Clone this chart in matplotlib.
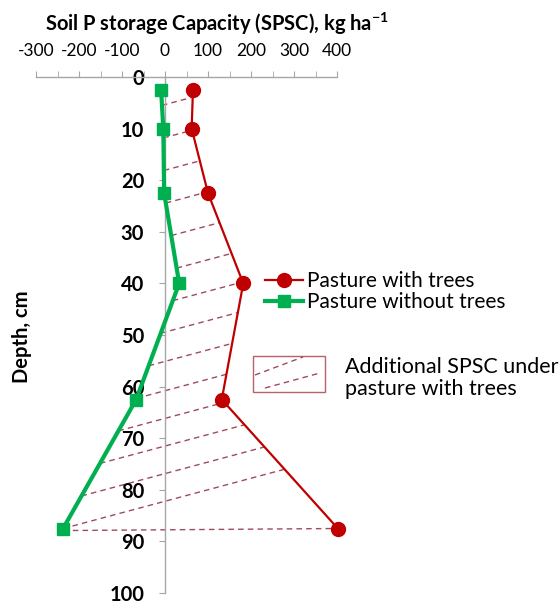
import numpy as np
import matplotlib.pyplot as plt
from matplotlib.lines import Line2D
from matplotlib.patches import Rectangle
from matplotlib.ticker import MultipleLocator

plt.rcParams['font.family'] = ['Lato', 'DejaVu Sans']
plt.rcParams['mathtext.fontset'] = 'custom'
plt.rcParams['mathtext.rm'] = 'Lato'
plt.rcParams['mathtext.bf'] = 'Lato:bold'
plt.rcParams['axes.unicode_minus'] = False

# data
depth = [2.5, 10, 22.5, 40, 62.5, 87.5]            # cm
with_trees = [65, 62, 100, 182, 132, 402]          # kg/ha
without_trees = [-9, -4, -2, 33, -67, -237]        # kg/ha
xticks = [-300, -200, -100, 0, 100, 200, 300, 400]
yticks = list(range(0, 101, 10))

W, H = 559, 604
fig = plt.figure(figsize=(W / 100, H / 100), dpi=100)
ax = fig.add_axes([36 / W, 11 / H, 301 / W, 516 / H])

red = '#c00000'
green = '#00b050'
hatch_col = '#9e4b5a'
grey = '#a6a6a6'

# hatched band between the two profiles: slanted dashed lines
k = 0.0223   # depth change per kg/ha along a hatch line
for d0 in np.linspace(5.5, 87.5, 14):
    xg = np.interp(d0, depth, without_trees)
    d = np.linspace(depth[0], d0, 3000)
    f = d - (d0 - k * (np.interp(d, depth, with_trees) - xg))
    dr = d[np.argmin(np.abs(f))]
    xr = np.interp(dr, depth, with_trees)
    ax.plot([xg, xr], [d0, dr], ls=(0, (4, 3)), lw=1, color=hatch_col, zorder=1)
ax.plot([without_trees[-1], with_trees[-1]], [depth[-1] + 0.4, depth[-1]],
        ls=(0, (4, 3)), lw=1, color=hatch_col, zorder=1, clip_on=False)

l1, = ax.plot(with_trees, depth, color=red, lw=1.6, marker='o', ms=10, zorder=3,
              clip_on=False, label='Pasture with trees')
l2, = ax.plot(without_trees, depth, color=green, lw=3, marker='s', ms=8.5, zorder=3,
              clip_on=False, label='Pasture without trees')

ax.set_xlim(-300, 400)
ax.set_ylim(100, 0)
ax.spines['right'].set_visible(False)
ax.spines['bottom'].set_visible(False)
ax.spines['left'].set_position(('data', 0))
for s in ('left', 'top'):
    ax.spines[s].set_color(grey)
    ax.spines[s].set_linewidth(1)

ax.xaxis.tick_top()
ax.set_xticks(xticks)
ax.xaxis.set_minor_locator(MultipleLocator(50))
ax.tick_params(axis='x', which='both', direction='out', length=4, color=grey,
               labelsize=12.5, pad=9)
ax.set_yticks(yticks)
ax.tick_params(axis='y', direction='out', length=4, color=grey, labelsize=14.5, pad=11)
for t in ax.get_yticklabels():
    t.set_fontweight('bold')

fig.text(217 / W, 1 - 24 / H, r'Soil P storage Capacity (SPSC), kg ha$^{\mathbf{-1}}$',
         ha='center', va='center', fontsize=14.5, fontweight='bold')
fig.text(22 / W, 1 - 337 / H, 'Depth, cm', rotation=90, ha='center', va='center',
         fontsize=14.5, fontweight='bold')

fig.legend(handles=[l1, l2], loc='upper left', bbox_to_anchor=(265 / W, 1 - 271 / H),
           frameon=False, fontsize=15, handlelength=1.8, handletextpad=0.2,
           labelspacing=0.05, borderpad=0, borderaxespad=0)

# legend entry for the hatched band
fig.patches.append(Rectangle((253 / W, 1 - 392 / H), 72 / W, 36 / H, transform=fig.transFigure,
                             fill=False, edgecolor='#b5636b', lw=1))
for (xa, ya, xb, yb) in [(255, 375, 303, 357), (265, 388, 320, 373)]:
    fig.lines.append(Line2D([xa / W, xb / W], [1 - ya / H, 1 - yb / H], transform=fig.transFigure,
                            ls=(0, (4, 3)), lw=1, color=hatch_col))
fig.text(345 / W, 1 - 378 / H, 'Additional SPSC under\npasture with trees', ha='left',
         va='center', fontsize=15.5, linespacing=1.1)

fig.savefig('out.png', dpi=100)
